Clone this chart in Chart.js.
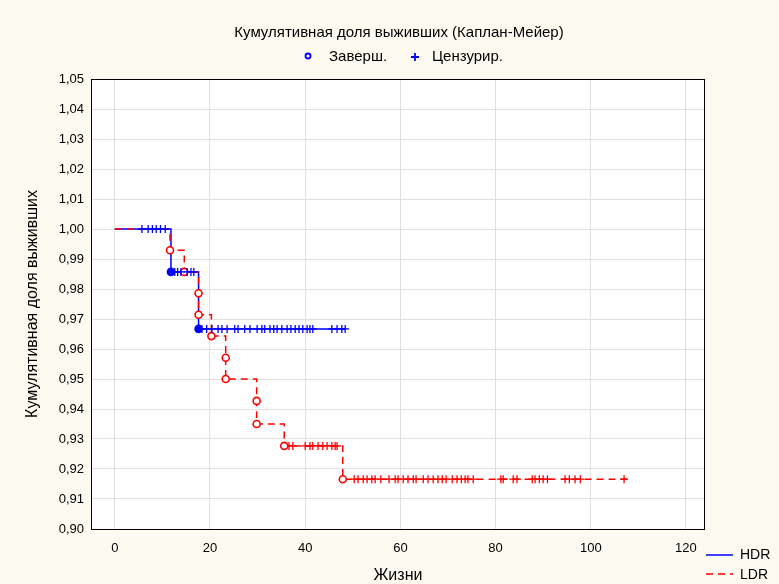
<!DOCTYPE html>
<html>
<head>
<meta charset="utf-8">
<script src="https://cdn.jsdelivr.net/npm/chart.js@4.4.0/dist/chart.umd.min.js"></script>
<style>
  html, body { margin: 0; padding: 0; background: #fdfbf1; }
  #wrap { width: 779px; height: 584px; }
</style>
</head>
<body>
<div id="wrap"><canvas id="kmChart" width="779" height="584"></canvas></div>
<script>
// Данные
const xTicks = [0, 20, 40, 60, 80, 100, 120];
const yTicks = [0.90, 0.91, 0.92, 0.93, 0.94, 0.95, 0.96, 0.97, 0.98, 0.99, 1.00, 1.01, 1.02, 1.03, 1.04, 1.05];

// HDR: моменты событий, доля выживших после события, конец наблюдения, цензурированные
const hdrEventTimes = [11.8, 17.6];
const hdrSurvival = [0.9857, 0.9667];
const hdrEndTime = 48.4;
const hdrCensored = [5.7, 7.0, 7.9, 8.7, 9.6, 10.6, 12.6, 13.2, 13.9, 15.2, 16.0, 16.6,
  18.3, 19.3, 20.4, 21.7, 22.5, 23.6, 25.2, 25.9, 27.3, 28.4, 29.9, 30.9, 31.5, 32.6,
  33.4, 34.1, 35.1, 36.2, 37.0, 37.9, 38.7, 39.5, 40.4, 41.0, 41.6, 45.6, 46.7, 47.7, 48.4];

// LDR
const ldrEventTimes = [11.6, 14.6, 17.6, 17.6, 20.3, 23.3, 23.3, 29.8, 29.8, 35.6, 47.9];
const ldrSurvival = [0.9929, 0.9857, 0.9786, 0.9714, 0.9643, 0.9571, 0.9500, 0.9427, 0.9350, 0.9277, 0.9166];
const ldrEndTime = 107.6;
const ldrCensored = [36.6, 37.4, 40.0, 41.0, 41.6, 42.7, 43.7, 44.6, 45.6, 46.3, 46.7,
  50.3, 51.1, 52.2, 53.0, 54.0, 54.7, 55.9, 57.6, 58.9, 59.5, 60.6, 61.6, 62.7, 63.3,
  64.8, 65.8, 66.9, 67.9, 68.8, 69.6, 70.9, 71.9, 72.8, 73.6, 74.2, 75.3,
  81.1, 81.6, 83.7, 84.5, 87.7, 88.3, 89.2, 90.0, 90.9, 94.6, 95.5, 96.7, 97.8, 107.0];

const fontFamily = '"Liberation Sans", Arial, sans-serif';
const blue = '#0000ff';
const red = '#ff0000';

// Ступенчатая кривая Каплана-Мейера
function stepPoints(times, surv, end) {
    const pts = [{ x: 0, y: 1 }];
    times.forEach((t, i) => pts.push({ x: t, y: surv[i] }));
    pts.push({ x: end, y: surv[surv.length - 1] });
    return pts;
}

function survAt(times, surv, t) {
    let s = 1;
    times.forEach((et, i) => { if (et <= t) s = surv[i]; });
    return s;
}

function eventPoints(times, surv) {
    return times.map((t, i) => ({ x: t, y: surv[i] }));
}

function censorPoints(times, surv, cens) {
    return cens.map(t => ({ x: t, y: survAt(times, surv, t) }));
}

// Фон, рамка, заголовок и легенды
const decorPlugin = {
    id: 'decor',
    beforeDraw(chart) {
        const { ctx, chartArea: a } = chart;
        ctx.save();
        ctx.fillStyle = '#fdfbf1';
        ctx.fillRect(0, 0, chart.width, chart.height);
        ctx.fillStyle = '#ffffff';
        ctx.fillRect(a.left, a.top, a.right - a.left, a.bottom - a.top);
        ctx.restore();
    },
    afterDraw(chart) {
        const { ctx, chartArea: a } = chart;
        ctx.save();
        ctx.strokeStyle = '#000';
        ctx.lineWidth = 1;
        ctx.strokeRect(a.left + 0.5, a.top + 0.5, a.right - a.left - 1, a.bottom - a.top);

        ctx.fillStyle = '#000';
        ctx.textBaseline = 'middle';
        ctx.font = '15px ' + fontFamily;
        ctx.textAlign = 'center';
        ctx.fillText('Кумулятивная доля выживших (Каплан-Мейер)', 399, 33);

        // легенда маркеров
        ctx.textAlign = 'left';
        ctx.fillText('Заверш.', 329, 57);
        ctx.fillText('Цензурир.', 432, 57);
        ctx.strokeStyle = blue;
        ctx.lineWidth = 1.8;
        ctx.beginPath();
        ctx.arc(308, 56, 2.5, 0, Math.PI * 2);
        ctx.stroke();
        ctx.beginPath();
        ctx.moveTo(411, 57); ctx.lineTo(419, 57);
        ctx.moveTo(415, 53); ctx.lineTo(415, 61);
        ctx.stroke();

        // легенда групп
        ctx.lineWidth = 1.5;
        ctx.strokeStyle = blue;
        ctx.beginPath();
        ctx.moveTo(706, 555); ctx.lineTo(733, 555);
        ctx.stroke();
        ctx.strokeStyle = red;
        ctx.setLineDash([7, 5]);
        ctx.beginPath();
        ctx.moveTo(706, 574); ctx.lineTo(733, 574);
        ctx.stroke();
        ctx.setLineDash([]);
        ctx.fillStyle = '#000';
        ctx.font = '14px ' + fontFamily;
        ctx.fillText('HDR', 740, 555);
        ctx.fillText('LDR', 740, 575);
        ctx.restore();
    }
};

const ctx = document.getElementById('kmChart').getContext('2d');

const kmChart = new Chart(ctx, {
    type: 'scatter',
    data: {
        datasets: [
            {
                label: 'HDR цензур.',
                data: censorPoints(hdrEventTimes, hdrSurvival, hdrCensored),
                pointStyle: 'cross',
                pointRadius: 4,
                borderColor: blue,
                borderWidth: 1.3,
                order: 1
            },
            {
                label: 'LDR заверш.',
                data: eventPoints(ldrEventTimes, ldrSurvival),
                pointStyle: 'circle',
                pointRadius: 3.5,
                borderColor: red,
                backgroundColor: '#ffffff',
                borderWidth: 1.6,
                order: 2
            },
            {
                label: 'LDR цензур.',
                data: censorPoints(ldrEventTimes, ldrSurvival, ldrCensored),
                pointStyle: 'cross',
                pointRadius: 4,
                borderColor: red,
                borderWidth: 1.3,
                order: 3
            },
            {
                label: 'LDR',
                type: 'line',
                data: stepPoints(ldrEventTimes, ldrSurvival, ldrEndTime),
                stepped: 'before',
                borderColor: red,
                borderWidth: 1.5,
                borderDash: [7, 5],
                pointRadius: 0,
                fill: false,
                order: 4
            },
            {
                label: 'HDR заверш.',
                data: eventPoints(hdrEventTimes, hdrSurvival),
                pointStyle: 'circle',
                pointRadius: 3.5,
                borderColor: blue,
                backgroundColor: blue,
                borderWidth: 1.6,
                order: 5
            },
            {
                label: 'HDR',
                type: 'line',
                data: stepPoints(hdrEventTimes, hdrSurvival, hdrEndTime),
                stepped: 'before',
                borderColor: blue,
                borderWidth: 1.5,
                pointRadius: 0,
                fill: false,
                order: 6
            }
        ]
    },
    options: {
        responsive: false,
        animation: false,
        devicePixelRatio: 1,
        layout: { padding: { top: 79, right: 74, bottom: 0, left: 0 } },
        plugins: {
            legend: { display: false },
            title: { display: false },
            tooltip: { enabled: false }
        },
        scales: {
            x: {
                type: 'linear',
                min: -5,
                max: 124,
                afterBuildTicks: axis => { axis.ticks = xTicks.map(v => ({ value: v })); },
                afterFit: scale => { scale.height = 55; },
                ticks: { color: '#000', padding: 12, font: { family: fontFamily, size: 13 } },
                grid: { color: '#e0e0e0', drawTicks: false },
                border: { display: false },
                title: {
                    display: true,
                    text: 'Жизни',
                    color: '#000',
                    padding: { bottom: 0 },
                    font: { family: fontFamily, size: 16, lineHeight: 1 }
                }
            },
            y: {
                type: 'linear',
                min: 0.90,
                max: 1.05,
                afterBuildTicks: axis => { axis.ticks = yTicks.map(v => ({ value: v })); },
                afterFit: scale => { scale.width = 91; },
                ticks: {
                    color: '#000',
                    padding: 7,
                    font: { family: fontFamily, size: 13 },
                    callback: v => v.toFixed(2).replace('.', ',')
                },
                grid: { color: '#e0e0e0', drawTicks: false },
                border: { display: false },
                title: {
                    display: true,
                    text: 'Кумулятивная доля выживших',
                    color: '#000',
                    padding: { top: 25 },
                    font: { family: fontFamily, size: 16, lineHeight: 1 }
                }
            }
        }
    },
    plugins: [decorPlugin]
});
</script>
</body>
</html>
